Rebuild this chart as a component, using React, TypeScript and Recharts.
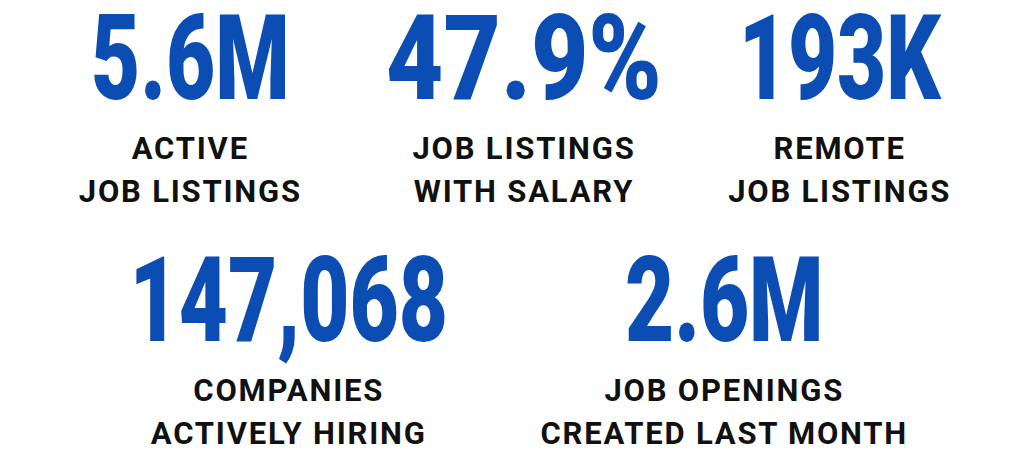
import React from 'react';
import { BarChart, Bar, XAxis, YAxis } from 'recharts';

// ---- data ----
const topCategories = ['Active job listings', 'Job listings with salary', 'Remote job listings'];
const topFigures = ['5.6M', '47.9%', '193K'];
const topValues = [5600000, 47.9, 193000];
const topLabels = [
  ['ACTIVE', 'JOB LISTINGS'],
  ['JOB LISTINGS', 'WITH SALARY'],
  ['REMOTE', 'JOB LISTINGS'],
];

const bottomCategories = ['Companies actively hiring', 'Job openings created last month'];
const bottomFigures = ['147,068', '2.6M'];
const bottomValues = [147068, 2600000];
const bottomLabels = [
  ['COMPANIES', 'ACTIVELY HIRING'],
  ['JOB OPENINGS', 'CREATED LAST MONTH'],
];

// ---- style ----
const BLUE = '#0b4db3';
const INK = '#111111';
const NUM_SIZE = 118;
const NUM_DY = 63;
const L1_DY = 123;
const L2_DY = 166;
const LABEL_SIZE = 31;
const AXIS_H = 200;
const PLOT_H = 28;

const buildRows = (cats: string[], vals: number[]) =>
  cats.map((c, i) => ({ category: c, value: vals[i] }));

const makeTick =
  (figures: string[], labels: string[][], nudges: number[], stretch: number[]) =>
  (props: any) => {
    const { x, y, index } = props;
    const cx = x + (nudges[index] || 0);
    return (
      <g>
        <g transform={`translate(${cx},${y + NUM_DY}) scale(${stretch[index]},1)`}>
          <text
            x={0}
            y={0}
            textAnchor="middle"
            fontFamily="Roboto"
            fontWeight={900}
            fontSize={NUM_SIZE}
            fill={BLUE}
          >
            {figures[index]}
          </text>
        </g>
        <text
          x={cx}
          y={y + L1_DY}
          textAnchor="middle"
          fontFamily="Roboto"
          fontWeight={700}
          fontSize={LABEL_SIZE}
          letterSpacing={1.8}
          fill={INK}
        >
          {labels[index][0]}
        </text>
        <text
          x={cx}
          y={y + L2_DY}
          textAnchor="middle"
          fontFamily="Roboto"
          fontWeight={700}
          fontSize={LABEL_SIZE}
          letterSpacing={1.8}
          fill={INK}
        >
          {labels[index][1]}
        </text>
      </g>
    );
  };

const Row = ({
  cats,
  vals,
  figures,
  labels,
  left,
  right,
  top,
  nudges,
  stretch,
}: {
  cats: string[];
  vals: number[];
  figures: string[];
  labels: string[][];
  left: number;
  right: number;
  top: number;
  nudges: number[];
  stretch: number[];
}) => (
  <BarChart
    width={1024}
    height={top + PLOT_H + AXIS_H}
    data={buildRows(cats, vals)}
    margin={{ top, right, bottom: 0, left }}
  >
    <XAxis
      dataKey="category"
      type="category"
      axisLine={false}
      tickLine={false}
      height={AXIS_H}
      interval={0}
      tick={makeTick(figures, labels, nudges, stretch)}
    />
    <YAxis hide />
    <Bar dataKey="value" fill={BLUE} fillOpacity={0} isAnimationActive={false} />
  </BarChart>
);

export default function App() {
  return (
    <div
      style={{
        position: 'fixed',
        left: 0,
        top: 0,
        width: 1024,
        height: 457,
        overflow: 'hidden',
        background: '#ffffff',
      }}
    >
      <div style={{ position: 'absolute', left: 0, top: 0 }}>
        <Row
          cats={topCategories}
          vals={topValues}
          figures={topFigures}
          labels={topLabels}
          left={28}
          right={22}
          top={0}
          nudges={[0, 9, 0]}
          stretch={[0.72, 0.84, 0.72]}
        />
      </div>
      <div style={{ position: 'absolute', left: 0, top: 212 }}>
        <Row
          cats={bottomCategories}
          vals={bottomValues}
          figures={bottomFigures}
          labels={bottomLabels}
          left={71}
          right={82}
          top={30}
          nudges={[0, 0]}
          stretch={[0.72, 0.72]}
        />
      </div>
    </div>
  );
}
